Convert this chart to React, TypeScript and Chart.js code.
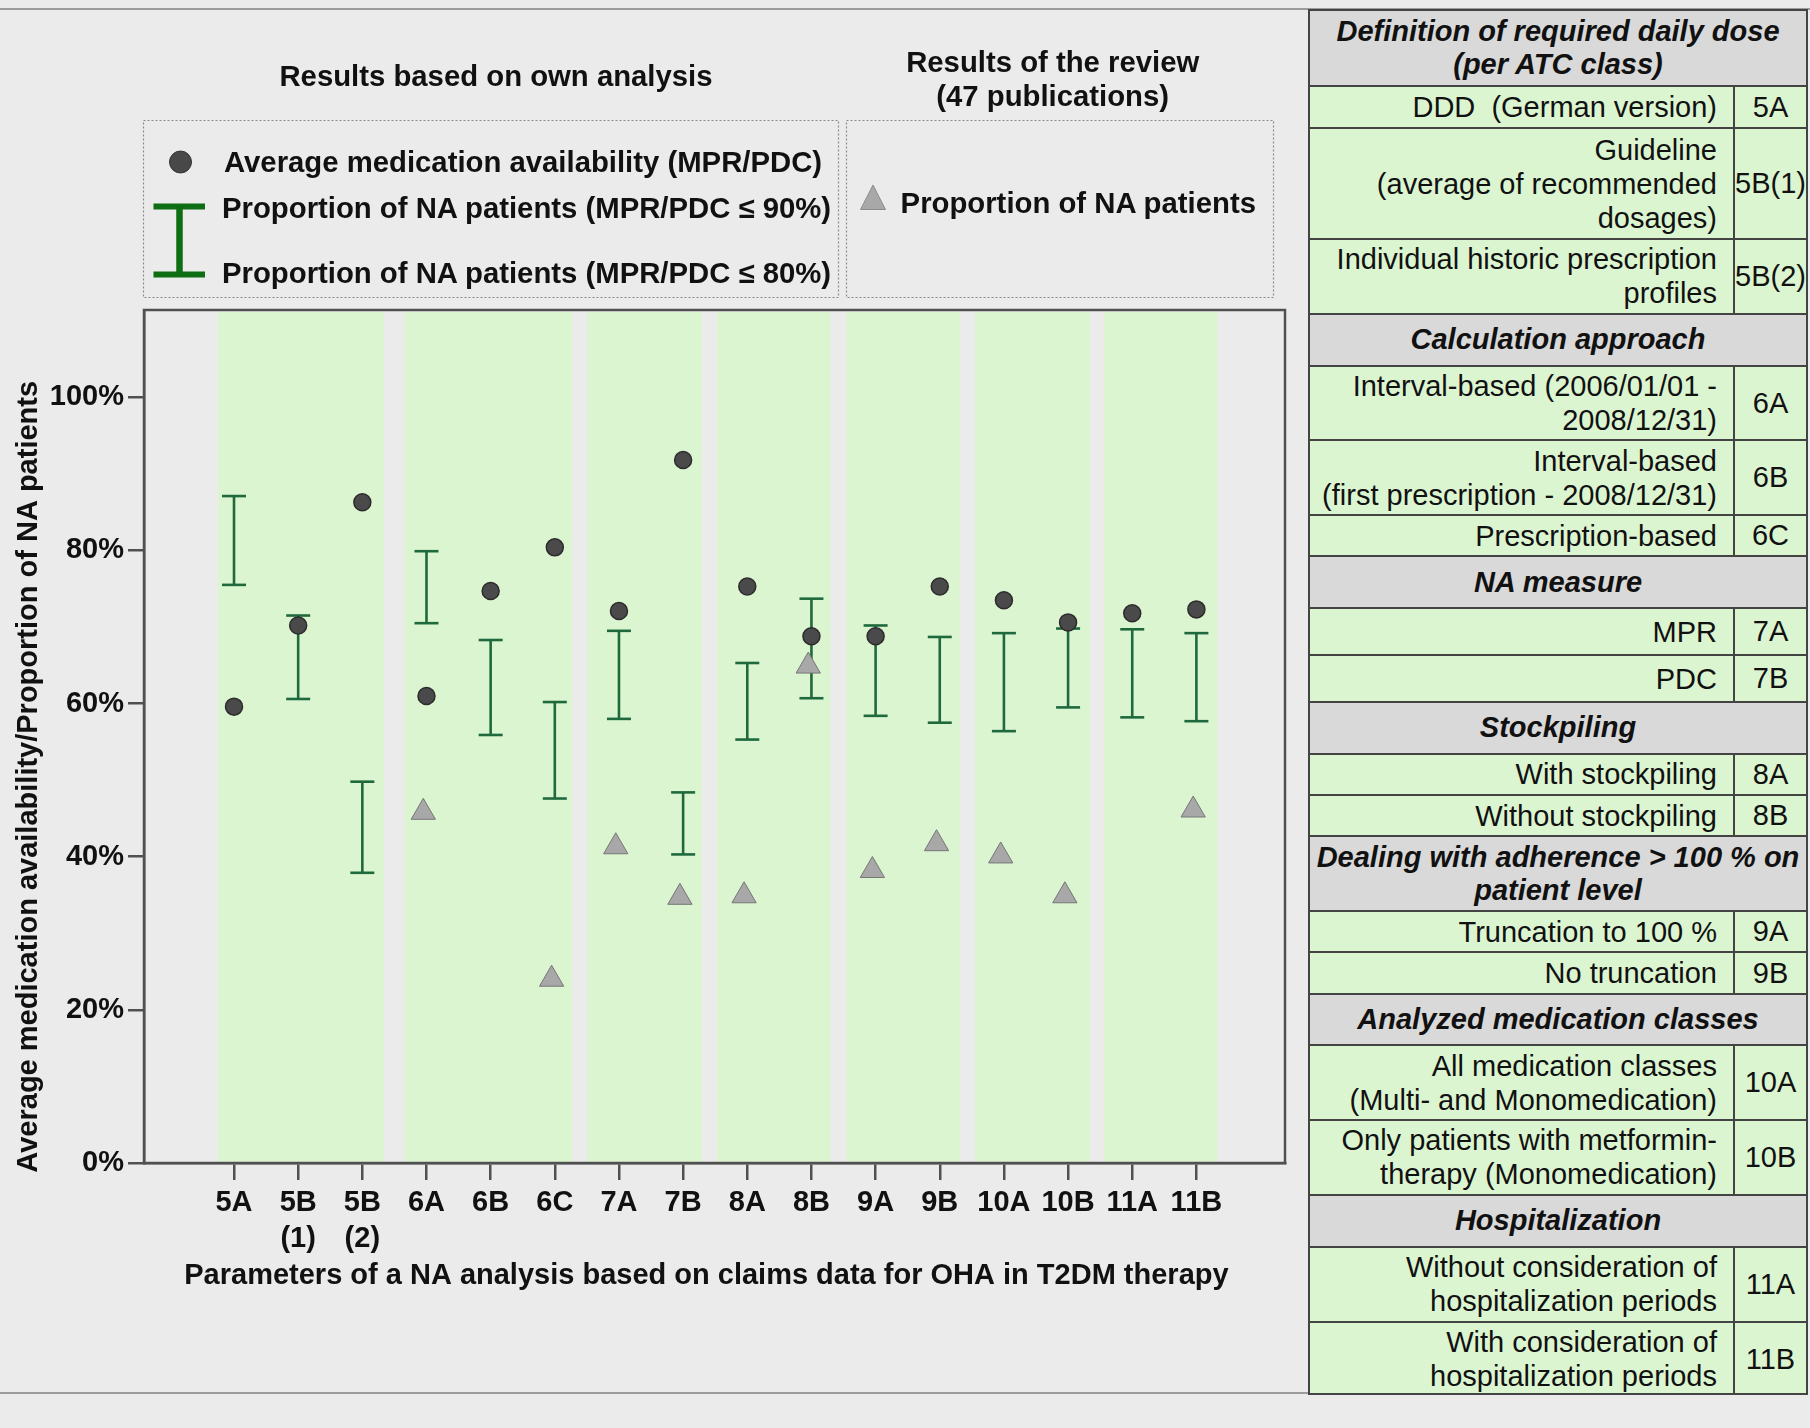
import React, { useEffect, useRef } from 'react';
import { Chart, registerables } from 'chart.js';

Chart.register(...registerables);

// ---------- DATA ----------
const categories = ['5A', '5B(1)', '5B(2)', '6A', '6B', '6C', '7A', '7B', '8A', '8B', '9A', '9B', '10A', '10B', '11A', '11B'];
const xTickLabels = [['5A'], ['5B', '(1)'], ['5B', '(2)'], ['6A'], ['6B'], ['6C'], ['7A'], ['7B'], ['8A'], ['8B'], ['9A'], ['9B'], ['10A'], ['10B'], ['11A'], ['11B']];
// Average medication availability (MPR/PDC), %
const avgAvailability = [59.6, 70.2, 86.3, 61.0, 74.7, 80.4, 72.1, 91.8, 75.3, 68.8, 68.8, 75.3, 73.5, 70.6, 71.8, 72.3];
// Proportion of NA patients (MPR/PDC <= 90%), %
const naUpper90 = [87.1, 71.5, 49.8, 79.9, 68.3, 60.2, 69.5, 48.4, 65.3, 73.7, 70.2, 68.7, 69.2, 69.8, 69.7, 69.2];
// Proportion of NA patients (MPR/PDC <= 80%), %
const naLower80 = [75.5, 60.6, 37.9, 70.5, 55.9, 47.6, 58.0, 40.3, 55.3, 60.7, 58.4, 57.5, 56.4, 59.5, 58.2, 57.7];
// Results of the review: proportion of NA patients, %
const reviewNA = [null, null, null, 45.8, null, 24.0, 41.3, 34.7, 34.9, 64.9, 38.2, 41.7, 40.1, 34.9, null, 46.1];
const yTicks = [0, 20, 40, 60, 80, 100];
// parameter groups (shaded bands) in category-axis units
const bandExtents = [[-0.25, 2.34], [2.66, 5.27], [5.51, 7.29], [7.53, 9.3], [9.54, 11.31], [11.55, 13.34], [13.56, 15.33]];

const yTitle = 'Average medication availability/Proportion of NA patients';
const xTitle = 'Parameters of a NA analysis based on claims data for OHA in T2DM therapy';

type TRow = { kind: 'header' | 'row'; lines: string[]; code?: string };
const tableSections: { header: string[]; rows: [string[], string][] }[] = [
  { header: ['Definition of required daily dose', '(per ATC class)'], rows: [
    [['DDD  (German version)'], '5A'],
    [['Guideline', '(average of recommended', 'dosages)'], '5B(1)'],
    [['Individual historic prescription', 'profiles'], '5B(2)'],
  ] },
  { header: ['Calculation approach'], rows: [
    [['Interval-based (2006/01/01 -', '2008/12/31)'], '6A'],
    [['Interval-based', '(first prescription - 2008/12/31)'], '6B'],
    [['Prescription-based'], '6C'],
  ] },
  { header: ['NA measure'], rows: [[['MPR'], '7A'], [['PDC'], '7B']] },
  { header: ['Stockpiling'], rows: [[['With stockpiling'], '8A'], [['Without stockpiling'], '8B']] },
  { header: ['Dealing with adherence > 100 % on', 'patient level'], rows: [[['Truncation to 100 %'], '9A'], [['No truncation'], '9B']] },
  { header: ['Analyzed medication classes'], rows: [
    [['All medication classes', '(Multi- and Monomedication)'], '10A'],
    [['Only patients with metformin-', 'therapy (Monomedication)'], '10B'],
  ] },
  { header: ['Hospitalization'], rows: [
    [['Without consideration of', 'hospitalization periods'], '11A'],
    [['With consideration of', 'hospitalization periods'], '11B'],
  ] },
];

// ---------- STYLE ----------
const FONT = '"Liberation Sans", Arial, Helvetica, sans-serif';
const BG = '#ebebeb';
const BAND = '#dcf5d1';
const AXIS = '#505050';
const ERR = '#1f6a3d';
const tableRowHeights = [74, 42, 111, 74.7, 52, 74.7, 74.6, 41, 52, 47, 47, 51.7, 41.3, 41.4, 74.6, 41.4, 41.3, 51.7, 74.3, 75, 52, 75.3, 74];
const TRI_SHIFT = -0.05;

const bandsPlugin = {
  id: 'bands',
  beforeDraw(chart: any) {
    const { ctx, chartArea, scales } = chart;
    const x = scales.x;
    ctx.save();
    ctx.fillStyle = BAND;
    bandExtents.forEach(([a, b]) => {
      const x0 = x.getPixelForValue(a);
      const x1 = x.getPixelForValue(b);
      ctx.fillRect(x0, chartArea.top + 2, x1 - x0, chartArea.bottom - chartArea.top - 2);
    });
    ctx.restore();
  },
};

const framePlugin = {
  id: 'frame',
  beforeDatasetsDraw(chart: any) {
    const { ctx, chartArea } = chart;
    ctx.save();
    ctx.strokeStyle = AXIS;
    ctx.lineWidth = 2.5;
    ctx.strokeRect(chartArea.left, chartArea.top, chartArea.right - chartArea.left, chartArea.bottom - chartArea.top);
    ctx.restore();
  },
};

function buildConfig(): any {
  const errData: any[] = [];
  categories.forEach((_, i) => {
    errData.push({ x: i, y: naLower80[i] });
    errData.push({ x: i, y: naUpper90[i] });
    errData.push({ x: i, y: null });
  });
  const triData: any[] = [];
  reviewNA.forEach((v, i) => {
    if (v !== null) triData.push({ x: i + TRI_SHIFT, y: v });
  });
  const tickFont = { family: FONT, size: 29, weight: 'bold' as const, lineHeight: 1.24 };
  return {
    type: 'scatter',
    data: {
      datasets: [
        {
          label: 'Average medication availability (MPR/PDC)',
          data: avgAvailability.map((y, i) => ({ x: i, y })),
          pointStyle: 'circle',
          pointRadius: 8.5,
          backgroundColor: '#4a4a4a',
          borderColor: '#2c2c2c',
          borderWidth: 1.5,
        },
        {
          label: 'Proportion of NA patients (review)',
          data: triData,
          pointStyle: 'triangle',
          pointRadius: 14,
          backgroundColor: '#a8a8a8',
          borderColor: '#767676',
          borderWidth: 1,
        },
        {
          label: 'Proportion of NA patients (MPR/PDC ≤ 90% / ≤ 80%)',
          data: errData,
          showLine: true,
          spanGaps: false,
          borderColor: ERR,
          borderWidth: 2.6,
          pointStyle: 'line',
          pointRadius: 12,
          pointBorderColor: ERR,
          pointBorderWidth: 2.6,
          backgroundColor: ERR,
        },
      ],
    },
    options: {
      animation: false,
      responsive: false,
      maintainAspectRatio: false,
      layout: { padding: { top: 310, right: 15, bottom: 0, left: 0 } },
      plugins: { legend: { display: false }, tooltip: { enabled: false } },
      events: [],
      scales: {
        x: {
          type: 'linear',
          min: -1.403,
          max: 16.381,
          afterFit: (s: any) => { s.height = 230; },
          afterBuildTicks: (s: any) => { s.ticks = categories.map((_, i) => ({ value: i })); },
          grid: { drawOnChartArea: false, drawTicks: true, tickLength: 17, color: AXIS, lineWidth: 2.5 },
          border: { display: true, color: AXIS, width: 2.5 },
          ticks: {
            autoSkip: false,
            maxRotation: 0,
            minRotation: 0,
            padding: 5,
            color: '#111',
            font: tickFont,
            callback: (v: any) => xTickLabels[Math.round(v)] ?? '',
          },
          title: {
            display: true,
            text: xTitle + '  ',
            color: '#111',
            font: { family: FONT, size: 29, weight: 'bold', lineHeight: 1.2 },
            padding: { top: 0, bottom: 100 },
          },
        },
        y: {
          type: 'linear',
          min: 0,
          max: 111.4,
          afterFit: (s: any) => { s.width = 144; },
          afterBuildTicks: (s: any) => { s.ticks = yTicks.map((v) => ({ value: v })); },
          grid: { drawOnChartArea: false, drawTicks: true, tickLength: 16, color: AXIS, lineWidth: 2.5 },
          border: { display: true, color: AXIS, width: 2.5 },
          ticks: {
            padding: 4,
            color: '#111',
            font: { family: FONT, size: 29, weight: 'bold' },
            callback: (v: any) => v + '%',
          },
          title: {
            display: true,
            text: yTitle + '          ',
            color: '#111',
            font: { family: FONT, size: 29, weight: 'bold', lineHeight: 1.2 },
            padding: { top: 12, bottom: 0 },
          },
        },
      },
    },
    plugins: [bandsPlugin, framePlugin],
  };
}

const txt = (extra: React.CSSProperties): React.CSSProperties => ({
  position: 'absolute',
  fontFamily: FONT,
  fontSize: 29.3,
  fontWeight: 'bold',
  lineHeight: '34px',
  color: '#111',
  whiteSpace: 'nowrap',
  ...extra,
});

function Table() {
  const rows: TRow[] = [];
  tableSections.forEach((s) => {
    rows.push({ kind: 'header', lines: s.header });
    s.rows.forEach(([lines, code]) => rows.push({ kind: 'row', lines, code }));
  });
  let acc = 0;
  return (
    <div style={{ position: 'absolute', left: 1308, top: 9, width: 500, height: 1386, boxSizing: 'border-box', border: '2px solid #444', overflow: 'hidden', fontFamily: FONT, fontSize: 29, color: '#111' }}>
      {rows.map((r, i) => {
        const top = acc;
        const h = tableRowHeights[i];
        acc += h;
        const isHeader = r.kind === 'header';
        return (
          <div key={i} style={{ position: 'absolute', left: 0, top, width: '100%', height: h, boxSizing: 'border-box', borderTop: i ? '2px solid #444' : 'none', background: isHeader ? '#d9d9d9' : BAND, display: 'flex' }}>
            {isHeader ? (
              <div style={{ flex: 1, display: 'flex', alignItems: 'center', justifyContent: 'center', textAlign: 'center', fontWeight: 'bold', fontStyle: 'italic', whiteSpace: 'pre', lineHeight: '33px' }}>{r.lines.join('\n')}</div>
            ) : (
              <>
                <div style={{ flex: 1, display: 'flex', alignItems: 'center', justifyContent: 'flex-end', textAlign: 'right', paddingRight: 16, whiteSpace: 'pre', lineHeight: '34px' }}>{r.lines.join('\n')}</div>
                <div style={{ width: 73, boxSizing: 'border-box', borderLeft: '2px solid #444', display: 'flex', alignItems: 'center', justifyContent: 'center', whiteSpace: 'nowrap' }}>{r.code}</div>
              </>
            )}
          </div>
        );
      })}
    </div>
  );
}

export default function App() {
  const ref = useRef<HTMLCanvasElement>(null);
  useEffect(() => {
    const chart = new Chart(ref.current as HTMLCanvasElement, buildConfig());
    return () => chart.destroy();
  }, []);
  return (
    <div style={{ position: 'absolute', left: 0, top: 0, width: 1810, height: 1428, background: BG, overflow: 'hidden', fontFamily: FONT }}>
      <div style={{ position: 'absolute', left: 0, top: 8, width: 1810, height: 2, background: '#9c9c9c' }} />
      <div style={{ position: 'absolute', left: 0, top: 1392, width: 1310, height: 2, background: '#9c9c9c' }} />
      <canvas ref={ref} width={1300} height={1393} style={{ position: 'absolute', left: 0, top: 0, width: 1300, height: 1393 }} />

      <svg width={1810} height={1428} style={{ position: 'absolute', left: 0, top: 0, pointerEvents: 'none' }}>
        <rect x={143.5} y={120.5} width={695} height={177} fill="none" stroke="#8a8a8a" strokeWidth={1.2} strokeDasharray="2 2" />
        <rect x={846.5} y={120.5} width={427} height={177} fill="none" stroke="#8a8a8a" strokeWidth={1.2} strokeDasharray="2 2" />
        <circle cx={180.5} cy={162} r={11} fill="#484848" stroke="#333" strokeWidth={1} />
        <g stroke="#0d6e13" strokeWidth={6} fill="none">
          <line x1={153.5} y1={206.5} x2={205} y2={206.5} />
          <line x1={153.5} y1={274.5} x2={205} y2={274.5} />
          <line x1={179.5} y1={206.5} x2={179.5} y2={274.5} strokeWidth={6.5} />
        </g>
        <polygon points="873,185 860.5,209.5 885.5,209.5" fill="#a8a8a8" stroke="#8c8c8c" strokeWidth={1} />
      </svg>

      <div style={txt({ left: 196, top: 59, width: 600, textAlign: 'center' })}>Results based on own analysis</div>
      <div style={txt({ left: 852.7, top: 44.7, width: 400, textAlign: 'center' })}>Results of the review<br />(47 publications)</div>
      <div style={txt({ left: 224, top: 144.7 })}>Average medication availability (MPR/PDC)</div>
      <div style={txt({ left: 222, top: 190.8 })}>Proportion of NA patients (MPR/PDC ≤ 90%)</div>
      <div style={txt({ left: 222, top: 256.3 })}>Proportion of NA patients (MPR/PDC ≤ 80%)</div>
      <div style={txt({ left: 900.6, top: 186.3 })}>Proportion of NA patients</div>

      <Table />
    </div>
  );
}
